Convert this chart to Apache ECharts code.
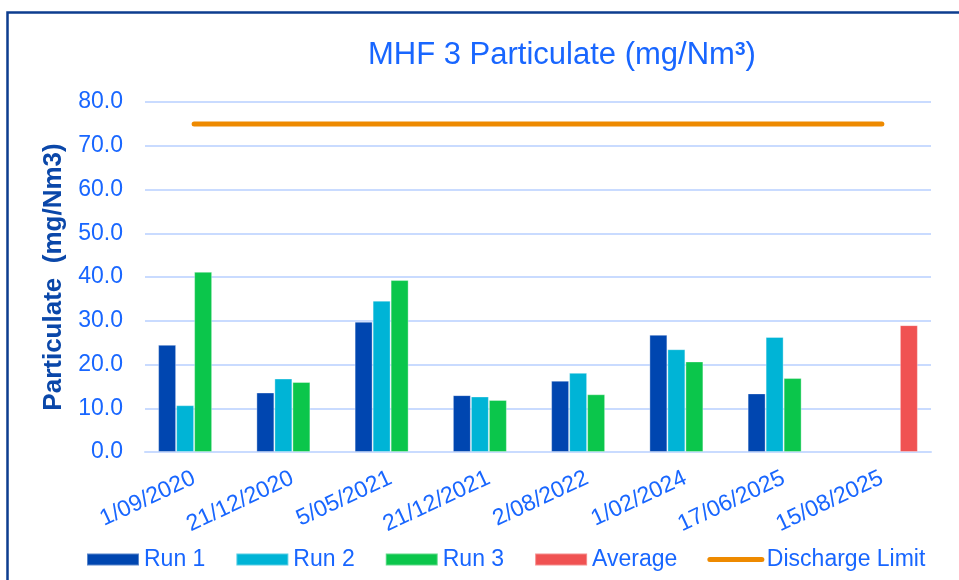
<!DOCTYPE html>
<html>
<head>
<meta charset="utf-8">
<script src="https://cdn.jsdelivr.net/npm/echarts@6/dist/echarts.min.js"></script>
<style>
html,body{margin:0;padding:0;background:#fff;}
#chart{width:959px;height:580px;}
</style>
</head>
<body>
<div id="chart"></div>
<script>
var categories = ['1/09/2020','21/12/2020','5/05/2021','21/12/2021','2/08/2022','1/02/2024','17/06/2025','15/08/2025'];
var run1 = [24.5, 13.6, 29.8, 13.0, 16.3, 26.8, 13.4, null];
var run2 = [10.7, 16.8, 34.6, 12.7, 18.1, 23.5, 26.3, null];
var run3 = [41.2, 16.0, 39.3, 11.9, 13.2, 20.7, 16.9, null];
var average = [null, null, null, null, null, null, null, 29.0];
var dischargeLimit = [75, 75, 75, 75, 75, 75, 75, 75];
var yTicks = {min: 0, max: 80, interval: 10};

var FONT = '"Liberation Sans", Arial, Helvetica, sans-serif';
var BLUE_TEXT = '#1866FF';

var chart = echarts.init(document.getElementById('chart'), null, {renderer: 'canvas'});
function bar(name, data, color) {
  return {
    name: name, type: 'bar', data: data, barWidth: 18, barGap: '0%',
    itemStyle: {color: color, borderColor: 'rgba(255,255,255,0.35)', borderWidth: 1},
    emphasis: {disabled: true}
  };
}
chart.setOption({
  animation: false,
  backgroundColor: '#ffffff',
  graphic: [{
    type: 'rect', left: 5, top: 10, silent: true,
    shape: {x: 0, y: 0, width: 1000, height: 620},
    style: {fill: 'none', stroke: '#0D3D8F', lineWidth: 2.5}
  }],
  title: {
    text: '{a|MHF 3 Particulate (mg/Nm}{b|3}{a|)}',
    left: 363, top: 35,
    textStyle: {
      rich: {
        a: {fontFamily: FONT, fontSize: 31, color: BLUE_TEXT, fontWeight: 'normal'},
        b: {fontFamily: FONT, fontSize: 19, color: BLUE_TEXT, verticalAlign: 'top', padding: [0, 0, 12, 0]}
      }
    }
  },
  grid: {left: 145, right: 28, top: 102, bottom: 128, containLabel: false},
  legend: {
    left: 86, top: 548, padding: 0, itemGap: 30, itemWidth: 52, itemHeight: 12, itemTextGap: 6,
    textStyle: {fontFamily: FONT, fontSize: 23, color: BLUE_TEXT},
    data: [
      {name: 'Run 1', icon: 'rect'},
      {name: 'Run 2', icon: 'rect'},
      {name: 'Run 3', icon: 'rect'},
      {name: 'Average', icon: 'rect'},
      {name: 'Discharge Limit', itemStyle: {opacity: 0}, lineStyle: {width: 5, cap: 'round', color: '#EE8A00'}}
    ]
  },
  xAxis: {
    type: 'category', data: categories,
    axisLine: {show: true, lineStyle: {color: '#C9DBFF', width: 2}},
    axisTick: {show: false},
    axisLabel: {rotate: 25, margin: 25, interval: 0, fontFamily: FONT, fontSize: 23, color: BLUE_TEXT}
  },
  yAxis: {
    type: 'value', min: yTicks.min, max: yTicks.max, interval: yTicks.interval,
    name: 'Particulate  (mg/Nm3)', nameLocation: 'middle', nameGap: 78,
    nameTextStyle: {fontFamily: FONT, fontSize: 26, fontWeight: 'bold', color: '#0A47A9'},
    axisLine: {show: false}, axisTick: {show: false},
    splitLine: {lineStyle: {color: '#C9DBFF', width: 2}},
    axisLabel: {margin: 22, fontFamily: FONT, fontSize: 23, color: BLUE_TEXT,
      formatter: function (v) { return v.toFixed(1); }}
  },
  series: [
    bar('Run 1', run1, '#0046B0'),
    bar('Run 2', run2, '#00B4D6'),
    bar('Run 3', run3, '#0BC64B'),
    bar('Average', average, '#F05252'),
    {
      name: 'Discharge Limit', type: 'line', data: dischargeLimit, symbol: 'none',
      lineStyle: {color: '#EE8A00', width: 5, cap: 'round'},
      itemStyle: {color: '#EE8A00'},
      emphasis: {disabled: true}
    }
  ]
});
</script>
</body>
</html>
